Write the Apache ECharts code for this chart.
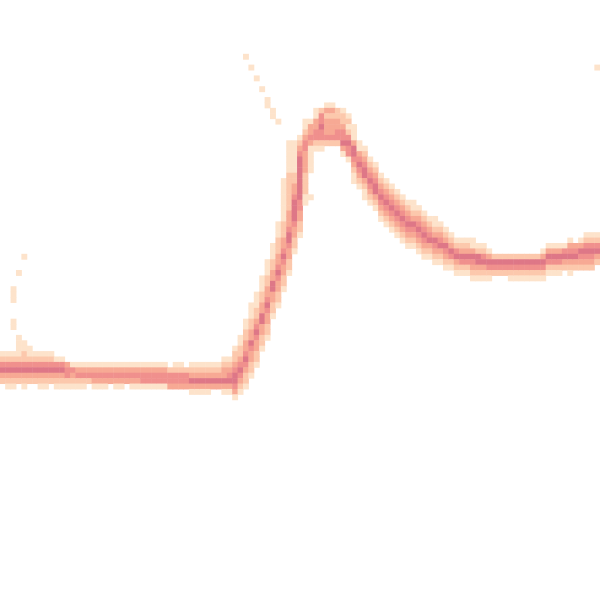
<!DOCTYPE html>
<html>
<head>
<meta charset="utf-8">
<script src="https://cdn.jsdelivr.net/npm/echarts@6/dist/echarts.min.js"></script>
<style>html,body{margin:0;padding:0;background:#fff;}#c{width:600px;height:600px;}</style>
</head>
<body>
<div id="c"></div>
<script>
// grid of 111 x 111 cells; row 0 at top
const nCols = 111;
const nRows = 111;
// first row of the coloured run in each column
const colStart = [
65,65,65,62,63,64,65,65,65,65,66,66,67,67,67,67,67,67,67,67,
67,67,67,67,67,67,67,67,67,67,67,68,67,67,68,67,67,67,67,67,
67,66,66,64,62,59,56,54,51,48,45,41,33,26,26,25,22,22,20,20,
19,19,20,20,21,23,26,27,29,30,32,33,34,35,36,37,37,38,39,40,
40,41,42,43,44,44,44,44,45,45,46,47,47,47,47,47,47,47,47,47,
46,45,45,45,45,44,45,44,43,43,43
];
// density level of each cell in the run (0 = empty)
const colLevels = [
"124532","1245321","1245321","111124532","112245321","1124532","124532","1245321","1245321","124532",
"145321","145321","34421","14321","13421","13421","1342","13431","13431","13431",
"1343","13431","13431","1343","13431","13431","13441","13441","13441","13441",
"13441","2443","12443","12443","2443","123531","123531","123531","123531","12353",
"12353","1233531","1234531","1223455431","11223454321","1122334543221","11122335433221","11122345433221","11122335533221","111223345433221",
"11122335533221","1112223345433221","111111112223345433221","1111112222222333455433221","111111223345555433221","1234555555554433221","1123443333222211","1334311111","11334421","24454421",
"13233342","13233342","2233442","122344531","121245441","11135543211","113454321","1234553211","123454321","123455321",
"123454321","123454321","123454321","123454321","123454321","123454321","112354321","123454321","123454321","12345321",
"112354321","12345321","12354321","1235421","1245321","1235421","1235421","11354321","1255321","1245321",
"135421","2542","2542","2542","25421","25421","25421","25421","25421","25421",
"135421","135421","135421","135421","14532","1345321","34532","135432","1245432","1245432","124532"
];
// isolated faint cells [col, row, level]
const extraCells = [
[2,53,1],[2,54,1],[2,55,1],[2,59,1],[2,60,1],[3,50,1],[4,47,1],
[45,10,1],[46,12,1],[47,14,1],[48,16,1],[49,18,1],[49,19,1],[50,20,1],[50,21,1],[51,22,1],
[57,36,1],[110,12,1]
];
const levelColors = ['#fde3cb','#fcc8ac','#f7a994','#f0908d','#de7787'];

const xCats = [], yCats = [];
for (let i = 0; i < nCols; i++) xCats.push(String(i));
for (let j = 0; j < nRows; j++) yCats.push(String(j));
const data = [];
for (let c = 0; c < colLevels.length; c++) {
  const s = colLevels[c];
  for (let k = 0; k < s.length; k++) {
    const v = +s[k];
    if (v > 0) data.push([c, colStart[c] + k, v]);
  }
}
extraCells.forEach(d => data.push(d));

const chart = echarts.init(document.getElementById('c'), null, {renderer: 'canvas'});
chart.setOption({
  animation: false,
  backgroundColor: '#ffffff',
  grid: {left: 0, right: 0, top: 0, bottom: 0},
  xAxis: {type: 'category', data: xCats, show: false},
  yAxis: {type: 'category', data: yCats, inverse: true, show: false},
  visualMap: {
    type: 'piecewise', show: false, dimension: 2,
    pieces: levelColors.map((col, i) => ({value: i + 1, color: col}))
  },
  series: [{
    type: 'heatmap',
    data: data,
    itemStyle: {borderWidth: 0}
  }]
});
</script>
</body>
</html>
